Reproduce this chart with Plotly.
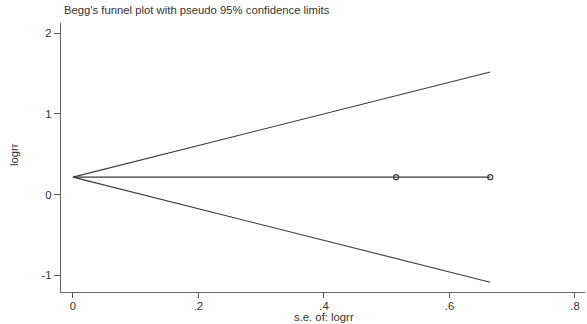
import plotly.graph_objects as go

# Study data
se = [0.515, 0.665]
logrr = [0.217, 0.217]

# Pooled estimate line and pseudo 95% confidence limits
pooled_x = [0.0, 0.665]
pooled_y = [0.217, 0.217]
upper_x = [0.0, 0.665]
upper_y = [0.217, 1.520]
lower_x = [0.0, 0.665]
lower_y = [0.217, -1.086]

xtick_vals = [0, 0.2, 0.4, 0.6, 0.8]
xtick_text = ["0", ".2", ".4", ".6", ".8"]
ytick_vals = [-1, 0, 1, 2]
ytick_text = ["-1", "0", "1", "2"]

line_color = "#3a3a3a"
font = dict(family="Liberation Sans, Arial, sans-serif", size=11.3, color="#333333")

W, H = 587, 324
L, R, T, B = 61, 2, 23, 32
pw, ph = W - L - R, H - T - B


def px_to_paper(px, py):
    return (px - L) / pw, (H - B - py) / ph


fig = go.Figure()
for xs, ys in [(upper_x, upper_y), (lower_x, lower_y), (pooled_x, pooled_y)]:
    fig.add_trace(go.Scatter(x=xs, y=ys, mode="lines",
                             line=dict(color=line_color, width=1.1),
                             showlegend=False, hoverinfo="skip"))
fig.add_trace(go.Scatter(x=se, y=logrr, mode="markers",
                         marker=dict(symbol="circle-open", size=5,
                                     color="#444444", line=dict(width=1.3)),
                         showlegend=False))

fig.update_layout(
    width=W, height=H,
    margin=dict(l=L, r=R, t=T, b=B, autoexpand=False),
    paper_bgcolor="white", plot_bgcolor="white",
    font=font,
)

tx, ty = px_to_paper(62, 10)
xx, xy = px_to_paper(324, 317)
yx, yy = px_to_paper(14, 155)
fig.add_annotation(text="Begg's funnel plot with pseudo 95% confidence limits",
                   x=tx, y=ty, xref="paper", yref="paper", xanchor="left",
                   yanchor="middle", showarrow=False, font=font)
fig.add_annotation(text="s.e. of: logrr", x=xx, y=xy, xref="paper", yref="paper",
                   xanchor="center", yanchor="middle", showarrow=False, font=font)
fig.add_annotation(text="logrr", x=yx, y=yy, xref="paper", yref="paper",
                   xanchor="center", yanchor="middle", textangle=-90,
                   showarrow=False, font=font)

fig.update_xaxes(range=[-0.019, 0.816], tickmode="array", tickvals=xtick_vals,
                 ticktext=xtick_text, ticks="outside", ticklen=5, tickcolor="#555555",
                 ticklabelstandoff=-2,
                 showline=True, linecolor="#666666", linewidth=1.3,
                 showgrid=False, zeroline=False, automargin=False)
fig.update_yaxes(range=[-1.207, 2.128], tickmode="array", tickvals=ytick_vals,
                 ticktext=ytick_text, ticks="outside", ticklen=6, tickcolor="#555555",
                 showline=True, linecolor="#666666", linewidth=1.3,
                 showgrid=False, zeroline=False, automargin=False)

fig.write_html("out.html", config={"displayModeBar": False},
               post_script="document.body.style.margin='0';document.body.style.overflow='hidden';")
